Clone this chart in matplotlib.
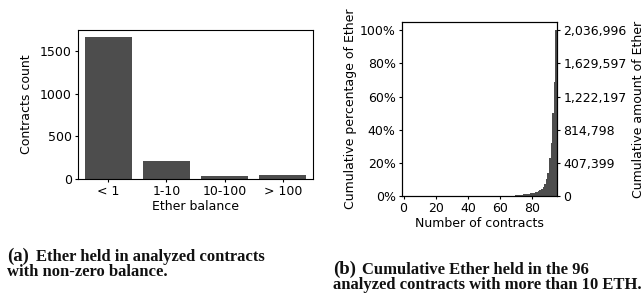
import matplotlib
matplotlib.use("Agg")
import matplotlib.pyplot as plt
import numpy as np

# (a) contracts per balance bucket
balance_labels = ['< 1', '1-10', '10-100', '> 100']
contract_counts = [1668, 213, 36, 50]

# (b) cumulative share of ether (%), 96 contracts sorted ascending
cum_pct = [
    0.00, 0.00, 0.00, 0.00, 0.00, 0.01, 0.01, 0.01, 0.01, 0.01,
    0.01, 0.01, 0.02, 0.02, 0.02, 0.02, 0.02, 0.02, 0.03, 0.03,
    0.03, 0.03, 0.03, 0.04, 0.04, 0.04, 0.04, 0.04, 0.05, 0.05,
    0.05, 0.05, 0.06, 0.06, 0.06, 0.06, 0.07, 0.07, 0.07, 0.07,
    0.08, 0.08, 0.08, 0.09, 0.09, 0.09, 0.10, 0.10, 0.10, 0.11,
    0.11, 0.11, 0.12, 0.12, 0.13, 0.13, 0.14, 0.14, 0.15, 0.15,
    0.16, 0.17, 0.17, 0.18, 0.19, 0.20, 0.21, 0.22, 0.24, 0.28,
    0.40, 0.50, 0.60, 0.70, 0.85, 1.00, 1.15, 1.30, 1.50, 1.70,
    1.90, 2.10, 2.30, 2.60, 3.00, 3.60, 4.50, 5.50, 7.00, 10.0,
    14.0, 23.0, 32.0, 50.0, 68.5, 100.0,
]
total_eth = 2036996
amount_ticks = [0, 407399, 814798, 1222197, 1629597, 2036996]

bar_color = '#4d4d4d'
plt.rcParams['font.size'] = 9
plt.rcParams['xtick.major.size'] = 2.5
plt.rcParams['ytick.major.size'] = 2.5
plt.rcParams['xtick.major.pad'] = 2
plt.rcParams['ytick.major.pad'] = 2

fig = plt.figure(figsize=(6.44, 2.96), dpi=100)

# ---- (a)
ax1 = fig.add_axes([78 / 644, 117 / 296, 235 / 644, 149 / 296])
ind = np.arange(len(balance_labels))
ax1.bar(ind, contract_counts, 0.8, color=bar_color)
ax1.set_xticks(ind)
ax1.set_xticklabels(balance_labels)
ax1.set_xlim(-0.52, 3.52)
ax1.set_yticks([0, 500, 1000, 1500])
ax1.set_ylabel('Contracts count', labelpad=5)
ax1.set_xlabel('Ether balance', labelpad=1)

# ---- (b)
ax2 = fig.add_axes([402 / 644, 100 / 296, 155 / 644, 174 / 296])
x = np.arange(len(cum_pct))
frac = np.array(cum_pct) / 100.0
ax2.bar(x, frac, 1.0, color=bar_color, linewidth=0)
ax2.set_xlim(-1, 95.5)
ax2.set_ylim(0, 1.05)
ax2.set_xticks([0, 20, 40, 60, 80])
ax2.set_yticks([0, 0.2, 0.4, 0.6, 0.8, 1.0])
ax2.set_yticklabels(['0%', '20%', '40%', '60%', '80%', '100%'])
ax2.set_ylabel('Cumulative percentage of Ether', labelpad=2)
ax2.set_xlabel('Number of contracts', labelpad=1)

ax3 = ax2.twinx()
ax3.set_ylim(0, 1.05 * total_eth)
ax3.set_yticks(amount_ticks)
ax3.set_yticklabels(['{:,}'.format(v) for v in amount_ticks])
ax3.set_ylabel('Cumulative amount of Ether', labelpad=4)

# captions
cap = dict(family='Liberation Serif', weight='bold', color='#111111', va='baseline')
fig.text(7 / 644, 1 - 261 / 296, '(a)', fontsize=13.5, **cap)
fig.text(36 / 644, 1 - 261 / 296, 'Ether held in analyzed contracts', fontsize=12, **cap)
fig.text(7 / 644, 1 - 276 / 296, 'with non-zero balance.', fontsize=12, **cap)
fig.text(333 / 644, 1 - 274 / 296, '(b)', fontsize=13.5, **cap)
fig.text(362 / 644, 1 - 274 / 296, 'Cumulative Ether held in the 96', fontsize=12, **cap)
fig.text(333 / 644, 1 - 289 / 296, 'analyzed contracts with more than 10 ETH.', fontsize=12, **cap)

fig.savefig('out.png', dpi=100)
